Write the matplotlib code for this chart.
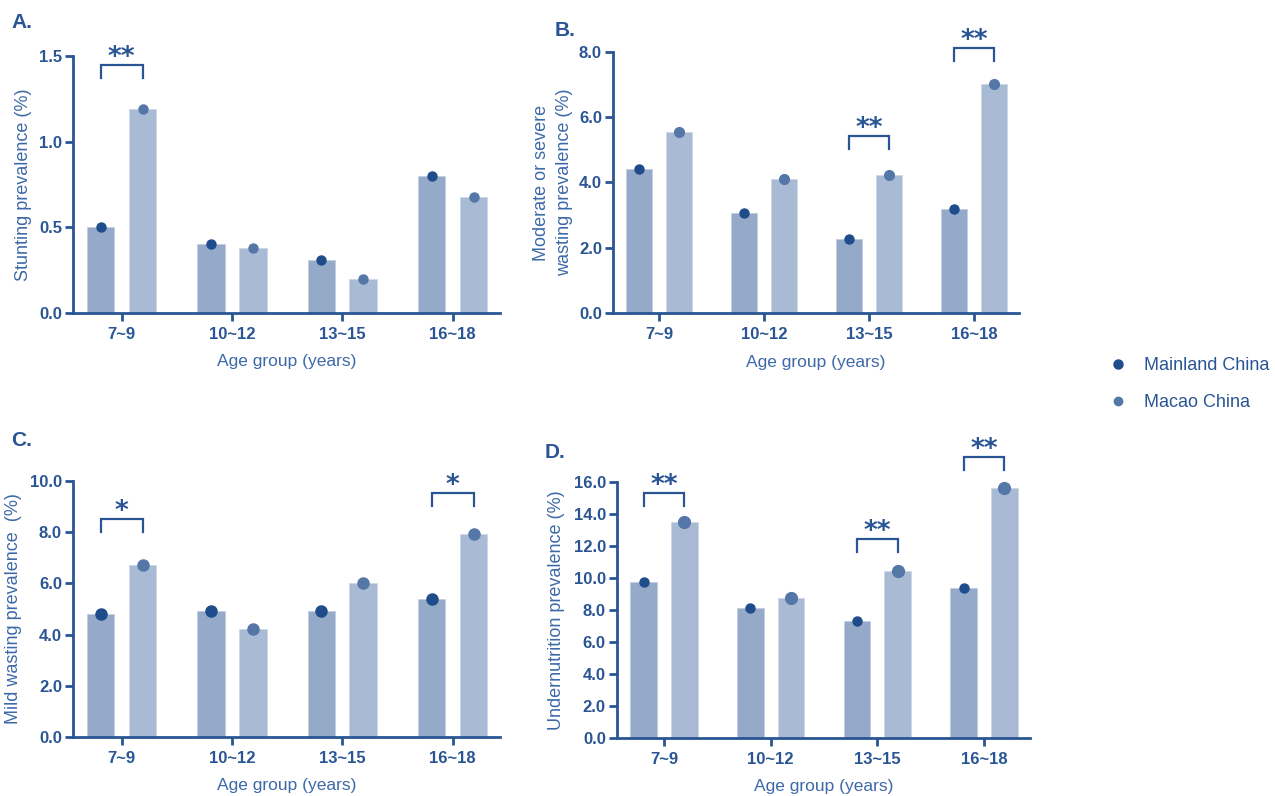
import numpy as np
import matplotlib.pyplot as plt
from matplotlib.lines import Line2D

plt.rcParams['font.family'] = ['Liberation Sans', 'DejaVu Sans']

# data
groups = ['7~9', '10~12', '13~15', '16~18']

stunting_mainland = [0.50, 0.40, 0.31, 0.80]
stunting_macao = [1.19, 0.38, 0.20, 0.68]

modsev_mainland = [4.42, 3.07, 2.27, 3.19]
modsev_macao = [5.54, 4.12, 4.23, 7.03]

mild_mainland = [4.80, 4.94, 4.94, 5.39]
mild_macao = [6.72, 4.22, 6.01, 7.92]

under_mainland = [9.73, 8.15, 7.28, 9.37]
under_macao = [13.47, 8.73, 10.45, 15.65]

# significance marks: (group index, stars, bracket level)
stunting_sig = [(0, '**', 1.446)]
modsev_sig = [(2, '**', 5.42), (3, '**', 8.11)]
mild_sig = [(0, '*', 8.50), (3, '*', 9.52)]
under_sig = [(0, '**', 15.31), (2, '**', 12.41), (3, '**', 17.56)]

# colours
axis_col = '#2a5594'
label_col = '#3d69a7'
bar_main = '#95aac8'
bar_macao = '#a9bbd4'
dot_main = '#1f4d8c'
dot_macao = '#5577a8'

fig = plt.figure(figsize=(12.75, 7.96), dpi=100)

panels = [
    # letter, ylabel, mainland, macao, sig, ymax, ticks, rect, ylabel x, dot sizes, letter pos
    ('A.', 'Stunting prevalence (%)', stunting_mainland, stunting_macao, stunting_sig,
     1.5, [0, 0.5, 1.0, 1.5], [0.0573, 0.6068, 0.3349, 0.3228], -0.096, (6.5, 6.5), (0.009, 0.972)),
    ('B.', 'Moderate or severe\nwasting prevalence (%)', modsev_mainland, modsev_macao, modsev_sig,
     8.0, [0, 2, 4, 6, 8], [0.4808, 0.6068, 0.3184, 0.3279], -0.099, (6.5, 7), (0.435, 0.962)),
    ('C.', 'Mild wasting prevalence  (%)', mild_mainland, mild_macao, mild_sig,
     10.0, [0, 2, 4, 6, 8, 10], [0.0573, 0.0741, 0.3349, 0.3216], -0.12, (8, 8), (0.009, 0.446)),
    ('D.', 'Undernutrition prevalence (%)', under_mainland, under_macao, under_sig,
     16.0, [0, 2, 4, 6, 8, 10, 12, 14, 16], [0.4839, 0.0729, 0.3239, 0.3216], -0.126, (6.5, 8.5), (0.427, 0.432)),
]

x = np.arange(len(groups))

for letter, ylab, main, macao, sig, ymax, ticks, rect, ylx, sizes, lpos in panels:
    ax = fig.add_axes(rect)
    ax.bar(x - 0.19, main, width=0.25, color=bar_main, edgecolor='#c3cfe0', linewidth=0.6, zorder=2)
    ax.bar(x + 0.19, macao, width=0.25, color=bar_macao, edgecolor='#cdd7e6', linewidth=0.6, zorder=2)
    ax.plot(x - 0.19, main, 'o', color=dot_main, ms=sizes[0], zorder=3, clip_on=False)
    ax.plot(x + 0.19, macao, 'o', color=dot_macao, ms=sizes[1], zorder=3, clip_on=False)

    ax.set_xlim(-0.44, 3.43)
    ax.set_ylim(0, ymax)
    ax.set_xticks(x)
    ax.set_xticklabels(groups)
    ax.set_yticks(ticks)
    ax.set_yticklabels(['%.1f' % t for t in ticks])

    for s in ['top', 'right']:
        ax.spines[s].set_visible(False)
    for s in ['left', 'bottom']:
        ax.spines[s].set_color(axis_col)
        ax.spines[s].set_linewidth(2.0)
    ax.tick_params(axis='both', colors=axis_col, width=2.0, length=6, labelsize=12)
    ax.tick_params(axis='y', pad=2)
    ax.tick_params(axis='x', pad=4)
    for lab in ax.get_xticklabels() + ax.get_yticklabels():
        lab.set_fontweight('bold')

    ax.set_xlabel('Age group (years)', fontsize=12.5, color=label_col)
    ax.xaxis.set_label_coords(0.5, -0.16)
    ax.set_ylabel(ylab, fontsize=13, color=label_col, linespacing=1.45)
    ax.yaxis.set_label_coords(ylx, 0.5)

    # significance brackets
    px_per_unit = rect[3] * fig.get_figheight() * fig.dpi / ymax
    leg = 13 / px_per_unit
    gap = 0.5 / px_per_unit
    for i, stars, y in sig:
        ax.plot([i - 0.19, i - 0.19, i + 0.19, i + 0.19], [y - leg, y, y, y - leg],
                color=axis_col, lw=1.6, clip_on=False, solid_joinstyle='miter')
        ax.text(i, y + gap, stars, ha='center', va='baseline', fontsize=19,
                fontweight='bold', color=axis_col, family='DejaVu Sans', clip_on=False)

    fig.text(lpos[0], lpos[1], letter, fontsize=15, fontweight='bold', color=axis_col,
             ha='left', va='center')

leg_handles = [Line2D([], [], marker='o', ls='none', color=dot_main, ms=6.5),
               Line2D([], [], marker='o', ls='none', color=dot_macao, ms=6)]
legend = fig.legend(leg_handles, ['Mainland China', 'Macao China'], loc='center left',
                    bbox_to_anchor=(0.8705, 0.5176), frameon=False, fontsize=13,
                    handlelength=0.9, handletextpad=1.0, labelspacing=1.1,
                    borderpad=0, borderaxespad=0)
for t in legend.get_texts():
    t.set_color(axis_col)

plt.savefig('out.png', dpi=100)
